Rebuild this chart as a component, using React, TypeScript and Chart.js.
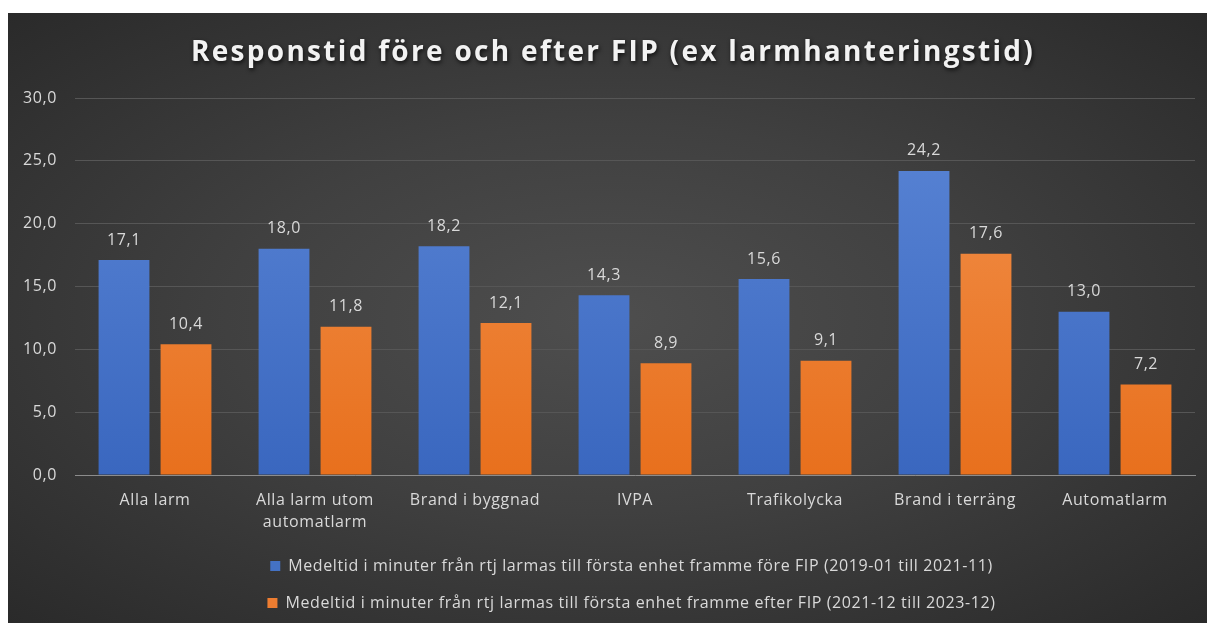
import React, { useEffect, useRef } from 'react';
import { Chart, registerables } from 'chart.js';

Chart.register(...registerables);

const titleText = 'Responstid före och efter FIP (ex larmhanteringstid)';
const categories: (string | string[])[] = [
  'Alla larm',
  ['Alla larm utom', 'automatlarm'],
  'Brand i byggnad',
  'IVPA',
  'Trafikolycka',
  'Brand i terräng',
  'Automatlarm',
];
const seriesBeforeLabel = 'Medeltid i minuter från rtj larmas till första enhet framme före FIP (2019-01 till 2021-11)';
const seriesAfterLabel = 'Medeltid i minuter från rtj larmas till första enhet framme efter FIP (2021-12 till 2023-12)';
const beforeValues = [17.1, 18.0, 18.2, 14.3, 15.6, 24.2, 13.0];
const afterValues = [10.4, 11.8, 12.1, 8.9, 9.1, 17.6, 7.2];
const yMin = 0;
const yMax = 30;
const yStep = 5;

const fmt = (v: number) => v.toFixed(1).replace('.', ',');
const FONT = "'Open Sans', 'Noto Sans', sans-serif";
const TEXT_SPACING = '0.6px';

function gradient(ctx: any, top: string, bottom: string, fallback: string) {
  const chart = ctx.chart;
  const area = chart.chartArea;
  if (!area) return fallback;
  const g = chart.ctx.createLinearGradient(0, area.top, 0, area.bottom);
  g.addColorStop(0, top);
  g.addColorStop(1, bottom);
  return g;
}

const spacing = {
  id: 'spacing',
  beforeUpdate(chart: any) {
    chart.ctx.letterSpacing = TEXT_SPACING;
  },
  beforeDraw(chart: any) {
    chart.ctx.letterSpacing = TEXT_SPACING;
    // centre the legend under the plot area rather than the whole canvas
    if (chart.legend && chart.chartArea) {
      chart.legend.left = 60;
      chart.legend.right = chart.chartArea.right;
    }
  },
};

const titleDraw = {
  id: 'titleDraw',
  afterDraw(chart: any) {
    const ctx = chart.ctx;
    ctx.save();
    ctx.font = `bold 28px ${FONT}`;
    ctx.letterSpacing = '2.3px';
    ctx.fillStyle = '#f2f2f2';
    ctx.textAlign = 'center';
    ctx.textBaseline = 'alphabetic';
    ctx.shadowColor = 'rgba(0,0,0,0.75)';
    ctx.shadowBlur = 4;
    ctx.shadowOffsetX = 1;
    ctx.shadowOffsetY = 2;
    ctx.fillText(titleText, 605, 48);
    ctx.restore();
  },
};

const valueLabels = {
  id: 'valueLabels',
  afterDatasetsDraw(chart: any) {
    const ctx = chart.ctx;
    ctx.save();
    ctx.font = `16px ${FONT}`;
    ctx.letterSpacing = TEXT_SPACING;
    ctx.fillStyle = '#d9d9d9';
    ctx.textAlign = 'center';
    ctx.textBaseline = 'middle';
    chart.data.datasets.forEach((ds: any, di: number) => {
      const meta = chart.getDatasetMeta(di);
      meta.data.forEach((bar: any, i: number) => {
        ctx.fillText(fmt(ds.data[i]), bar.x, bar.y - 20);
      });
    });
    ctx.restore();
  },
};

export default function App() {
  const ref = useRef<HTMLCanvasElement>(null);
  useEffect(() => {
    if (!ref.current) return;
    const chart = new Chart(ref.current, {
      type: 'bar',
      data: {
        labels: categories,
        datasets: [
          {
            label: seriesBeforeLabel,
            data: beforeValues,
            backgroundColor: (c: any) => gradient(c, '#5b86d6', '#3a67bf', '#4472c4'),
            borderWidth: 0,
          },
          {
            label: seriesAfterLabel,
            data: afterValues,
            backgroundColor: (c: any) => gradient(c, '#f2924e', '#e8701d', '#ed7d31'),
            borderWidth: 0,
          },
        ],
      },
      options: {
        animation: false,
        responsive: false,
        maintainAspectRatio: false,
        layout: { padding: { left: 0, right: 12, top: 85, bottom: 2 } },
        datasets: {
          bar: { categoryPercentage: 0.775, barPercentage: 0.82 },
        },
        scales: {
          x: {
            grid: { display: false, drawTicks: false },
            border: { display: true, color: '#8c8c8c', width: 1 },
            ticks: {
              color: '#d9d9d9',
              font: { family: FONT, size: 16, lineHeight: 1.375 },
              padding: 14,
              maxRotation: 0,
              autoSkip: false,
            },
            afterFit: (s: any) => {
              s.height = 62;
            },
          },
          y: {
            min: yMin,
            max: yMax,
            grid: { color: '#565656', lineWidth: 1, drawTicks: false },
            border: { display: false },
            ticks: {
              stepSize: yStep,
              color: '#d9d9d9',
              font: { family: FONT, size: 16 },
              padding: 18,
              callback: (v: any) => fmt(Number(v)),
            },
            afterFit: (s: any) => {
              s.width = 67;
            },
          },
        },
        plugins: {
          title: { display: false },
          legend: {
            position: 'bottom',
            labels: {
              color: '#d9d9d9',
              font: { family: FONT, size: 16 },
              boxWidth: 10,
              boxHeight: 10,
              padding: 21,
              generateLabels: (ch: any) =>
                ch.data.datasets.map((ds: any, i: number) => ({
                  text: ds.label,
                  fillStyle: i === 0 ? '#4472c4' : '#ed7d31',
                  strokeStyle: 'transparent',
                  lineWidth: 0,
                  fontColor: '#d9d9d9',
                  hidden: false,
                  datasetIndex: i,
                })),
            },
          },
          tooltip: { enabled: false },
        },
      },
      plugins: [spacing, valueLabels, titleDraw],
    });
    return () => chart.destroy();
  }, []);

  return (
    <div
      style={{
        position: 'absolute',
        left: 8,
        top: 13,
        width: 1199,
        height: 610,
        background: 'radial-gradient(ellipse at 50% 50%, #4e4e4e 0%, #404040 45%, #2a2a2a 100%)',
      }}
    >
      <canvas ref={ref} width={1199} height={610} style={{ display: 'block' }} />
    </div>
  );
}
